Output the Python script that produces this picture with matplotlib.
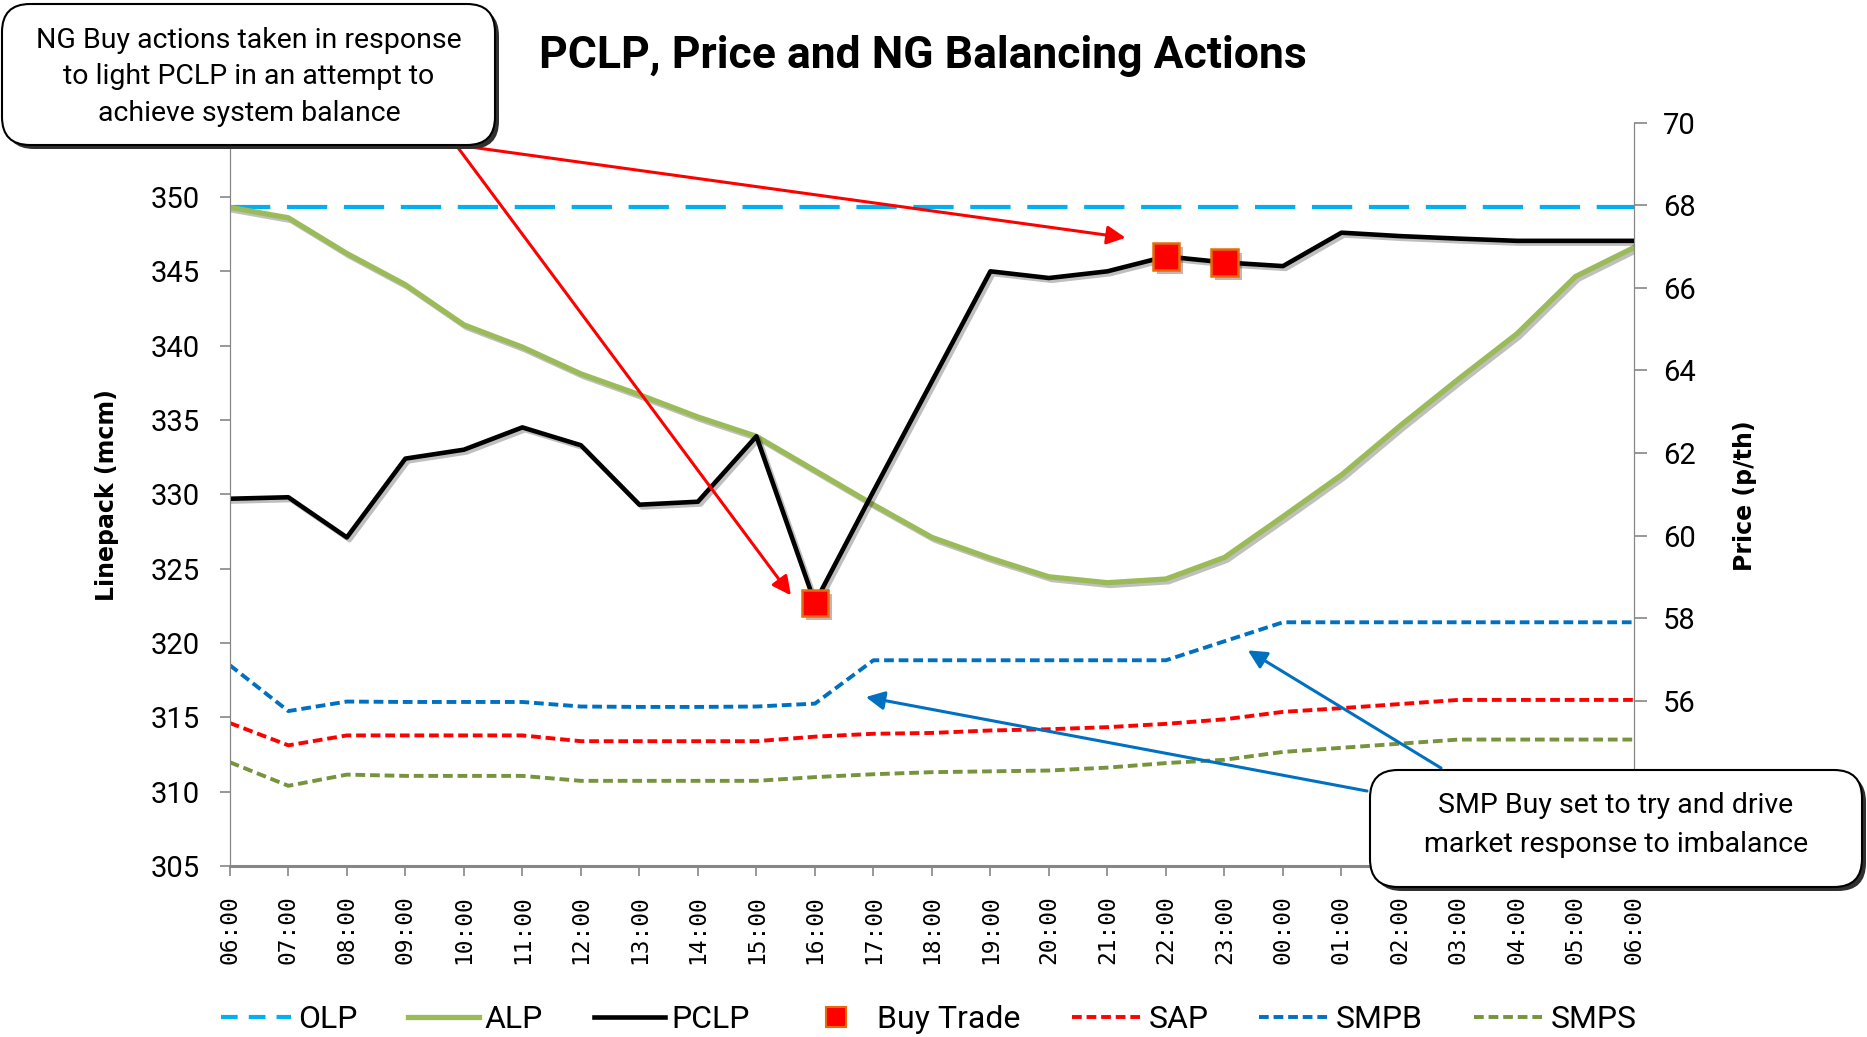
import numpy as np
import matplotlib
matplotlib.use("Agg")
import matplotlib.pyplot as plt
import matplotlib.patheffects as pe
from matplotlib.patches import FancyBboxPatch
from matplotlib.lines import Line2D

plt.rcParams['font.family'] = ['Roboto', 'DejaVu Sans']
plt.rcParams['lines.scale_dashes'] = False

# hourly settlement times over the gas day
hours = ['06:00', '07:00', '08:00', '09:00', '10:00', '11:00', '12:00', '13:00',
         '14:00', '15:00', '16:00', '17:00', '18:00', '19:00', '20:00', '21:00',
         '22:00', '23:00', '00:00', '01:00', '02:00', '03:00', '04:00', '05:00', '06:00']

# linepack (mcm)
olp = [349.3, 349.3, 349.3, 349.3, 349.3, 349.3, 349.3, 349.3, 349.3, 349.3, 349.3, 349.3,
       349.3, 349.3, 349.3, 349.3, 349.3, 349.3, 349.3, 349.3, 349.3, 349.3, 349.3, 349.3, 349.3]
alp = [349.3, 348.6, 346.2, 344.1, 341.4, 339.9, 338.1, 336.7, 335.2, 333.9, 331.6, 329.3,
       327.1, 325.7, 324.45, 324.05, 324.3, 325.75, 328.5, 331.3, 334.6, 337.75, 340.8, 344.65, 346.6]
pclp = [329.7, 329.8, 327.1, 332.4, 333.0, 334.5, 333.3, 329.3, 329.5, 333.9, 322.7, 330.2,
        337.6, 345.0, 344.55, 345.0, 346.0, 345.6, 345.35, 347.6, 347.37, 347.2, 347.05, 347.05, 347.05]
buy_hours = ['16:00', '22:00', '23:00']
buy_idx = [10, 16, 17]

# prices (p/th)
sap = [55.46, 54.92, 55.16, 55.16, 55.16, 55.16, 55.02, 55.02, 55.02, 55.02, 55.13, 55.2,
       55.22, 55.28, 55.31, 55.36, 55.44, 55.55, 55.73, 55.82, 55.92, 56.02, 56.02, 56.02, 56.02]
smpb = [56.86, 55.75, 55.98, 55.97, 55.97, 55.97, 55.86, 55.85, 55.85, 55.86, 55.93, 56.98,
        56.98, 56.98, 56.98, 56.98, 56.98, 57.44, 57.9, 57.9, 57.9, 57.9, 57.9, 57.9, 57.9]
smps = [54.51, 53.94, 54.21, 54.18, 54.18, 54.18, 54.06, 54.06, 54.06, 54.06, 54.15, 54.22,
        54.27, 54.29, 54.31, 54.38, 54.49, 54.57, 54.76, 54.86, 54.96, 55.06, 55.06, 55.06, 55.06]

left_ticks = [305, 310, 315, 320, 325, 330, 335, 340, 345, 350, 355]
right_ticks = [52, 54, 56, 58, 60, 62, 64, 66, 68, 70]
# labels that sit under the callout boxes in the original are not shown
hidden_left = [355]
hidden_right = [52, 54]

x = np.arange(len(hours))
buy_vals = [pclp[i] for i in buy_idx]

fig = plt.figure(figsize=(18.67, 10.37), dpi=100)
ax = fig.add_axes([0.1231, 0.165, 0.7521, 0.7167])
ax2 = ax.twinx()

shadow = [pe.SimpleLineShadow(offset=(2, -2), alpha=0.25), pe.Normal()]
dash_short = (0, (7, 3.5))

# price lines on the right axis
ax2.plot(x, sap, color='#FF0000', lw=2.8, ls=dash_short)
ax2.plot(x, smpb, color='#0070C0', lw=2.8, ls=dash_short)
ax2.plot(x, smps, color='#77933C', lw=2.8, ls=dash_short)

# linepack lines on the left axis (drawn above the prices)
ax.set_zorder(ax2.get_zorder() + 1)
ax.patch.set_visible(False)
ax.plot(x, olp, color='#00B0F0', lw=3.0, ls=(0, (29, 12)))
ax.plot(x, alp, color='#9BBB59', lw=3.8, path_effects=shadow)
ax.plot(x, pclp, color='black', lw=3.3, path_effects=shadow)
ax.plot(buy_idx, buy_vals, ls='none', marker='s', ms=19, mfc='#FF0000', mec='#E46C0A',
        mew=1.8, path_effects=[pe.SimplePatchShadow(offset=(3, -3), alpha=0.3), pe.Normal()])

ax.set_xlim(0, 24)
ax.set_ylim(305, 355)
ax.set_yticks(left_ticks)
ax.set_yticklabels(['' if t in hidden_left else str(t) for t in left_ticks])
ax2.set_ylim(52, 70)
ax2.set_yticks(right_ticks)
ax2.set_yticklabels(['' if t in hidden_right else str(t) for t in right_ticks])
ax.set_xticks(x)
ax.set_xticklabels(hours, rotation=90, fontsize=16.5, family='DejaVu Sans Mono')

for a in (ax, ax2):
    for s in a.spines.values():
        s.set_color('#868686')
    a.spines['top'].set_visible(False)
ax.spines['bottom'].set_linewidth(2.2)
ax.tick_params(axis='y', labelsize=21, length=7.5, width=1.2, color='#868686', pad=14)
ax.tick_params(axis='x', length=7, width=1.2, color='#868686', pad=14)
ax2.tick_params(axis='y', labelsize=21, length=9, width=1.2, color='#868686', pad=12)

fig.text(0.4945, 0.946, 'PCLP, Price and NG Balancing Actions', ha='center', va='center',
         fontsize=32, fontweight='bold')
fig.text(0.0574, 0.523, 'Linepack (mcm)', rotation=90, ha='center', va='center',
         fontsize=17, fontweight='bold', family='DejaVu Sans')
fig.text(0.9345, 0.522, 'Price (p/th)', rotation=90, ha='center', va='center',
         fontsize=17, fontweight='bold', family='DejaVu Sans')

# callout arrows
inch = fig.dpi_scale_trans
red_arrow = dict(arrowstyle='-|>', color='#FF0000', lw=2.2, mutation_scale=28, shrinkA=0, shrinkB=0)
blue_arrow = dict(arrowstyle='-|>', color='#0070C0', lw=2.2, mutation_scale=28, shrinkA=0, shrinkB=0)
ax.annotate('', xy=(15.31, 347.26), xycoords='data', xytext=(4.56, 8.92), textcoords=inch,
            arrowprops=red_arrow)
ax.annotate('', xy=(9.59, 323.2), xycoords='data', xytext=(4.56, 8.92), textcoords=inch,
            arrowprops=red_arrow)
ax2.annotate('', xy=(10.87, 56.09), xycoords='data', xytext=(13.67, 2.46), textcoords=inch,
             arrowprops=blue_arrow)
ax2.annotate('', xy=(17.40, 57.22), xycoords='data', xytext=(14.41, 2.69), textcoords=inch,
             arrowprops=blue_arrow)


def callout(x0, y0, w, h, text, tx, ty, size, spacing):
    sh = FancyBboxPatch((x0 + 0.04, y0 - 0.04), w, h, boxstyle='round,pad=0,rounding_size=0.28',
                        transform=inch, fc='#303030', ec='none', zorder=5)
    box = FancyBboxPatch((x0, y0), w, h, boxstyle='round,pad=0,rounding_size=0.28',
                         transform=inch, fc='white', ec='black', lw=1.5, zorder=6)
    fig.patches.extend([sh, box])
    fig.text(tx, ty, text, transform=inch, ha='center', va='center', fontsize=size,
             linespacing=spacing, zorder=7)


callout(0.02, 8.92, 4.93, 1.41,
        'NG Buy actions taken in response\nto light PCLP in an attempt to\nachieve system balance',
        2.49, 9.60, 20.5, 1.45)
callout(13.70, 1.50, 4.92, 1.17,
        'SMP Buy set to try and drive\nmarket response to imbalance', 16.16, 2.12, 20.5, 1.55)

handles = [
    Line2D([], [], color='#00B0F0', lw=3.0, ls=(0, (12, 8))),
    Line2D([], [], color='#9BBB59', lw=3.8),
    Line2D([], [], color='black', lw=3.3),
    Line2D([], [], ls='none', marker='s', ms=15, mfc='#FF0000', mec='#E46C0A', mew=1.5),
    Line2D([], [], color='#FF0000', lw=2.8, ls=dash_short),
    Line2D([], [], color='#0070C0', lw=2.8, ls=dash_short),
    Line2D([], [], color='#77933C', lw=2.8, ls=dash_short),
]
labels = ['OLP', 'ALP', 'PCLP', 'Buy Trade', 'SAP', 'SMPB', 'SMPS']
fig.legend(handles, labels, loc='center', bbox_to_anchor=(0.4976, 0.0169), ncol=7,
           frameon=False, fontsize=23, handlelength=2.2, handletextpad=0.2,
           columnspacing=1.6, borderaxespad=0)

fig.savefig('out.png', dpi=100)
